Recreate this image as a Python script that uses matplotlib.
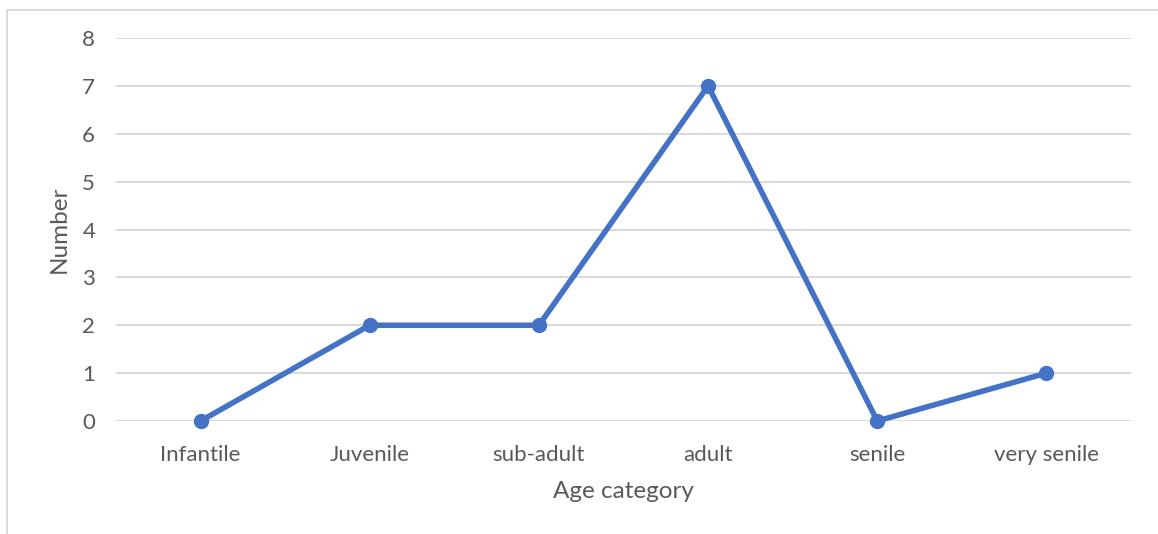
import matplotlib.pyplot as plt
from matplotlib.lines import Line2D

# Data
categories = ['Infantile', 'Juvenile', 'sub-adult', 'adult', 'senile', 'very senile']
counts = [0, 2, 2, 7, 0, 1]
y_ticks = [0, 1, 2, 3, 4, 5, 6, 7, 8]

plt.rcParams['font.family'] = ['Lato', 'DejaVu Sans']
text_color = '#595959'

fig = plt.figure(figsize=(11.58, 5.34), dpi=100)
ax = fig.add_axes([116 / 1158, 1 - 421 / 534, (1131 - 116) / 1158, (421 - 38) / 534])

x = list(range(len(categories)))
ax.plot(x, counts, color='#4472C4', linewidth=4, marker='o', markersize=10,
        solid_capstyle='round', solid_joinstyle='round', zorder=3, clip_on=False)

ax.set_xlim(-0.5, len(categories) - 0.5)
ax.set_ylim(0, 8)
ax.set_yticks(y_ticks)
ax.set_xticks(x)
ax.set_xticklabels(categories)
ax.grid(axis='y', color='#d9d9d9', linewidth=1.4)
ax.set_axisbelow(True)
for s in ax.spines.values():
    s.set_visible(False)
ax.tick_params(length=0, labelsize=16, labelcolor=text_color)
ax.tick_params(axis='y', pad=15)
ax.tick_params(axis='x', pad=17)

ax.set_xlabel('Age category', fontsize=17.5, color=text_color, labelpad=12)
ax.set_ylabel('Number', fontsize=17.5, color=text_color, labelpad=9)

# chart border (top and left visible in the crop)
fig.add_artist(Line2D([7 / 1158, 7 / 1158], [0, 1 - 10 / 534], color='#d9d9d9', linewidth=1.3,
                      transform=fig.transFigure))
fig.add_artist(Line2D([7 / 1158, 1], [1 - 10 / 534, 1 - 10 / 534], color='#d9d9d9', linewidth=1.3,
                      transform=fig.transFigure))

fig.savefig('out.png', dpi=100, facecolor='white')
